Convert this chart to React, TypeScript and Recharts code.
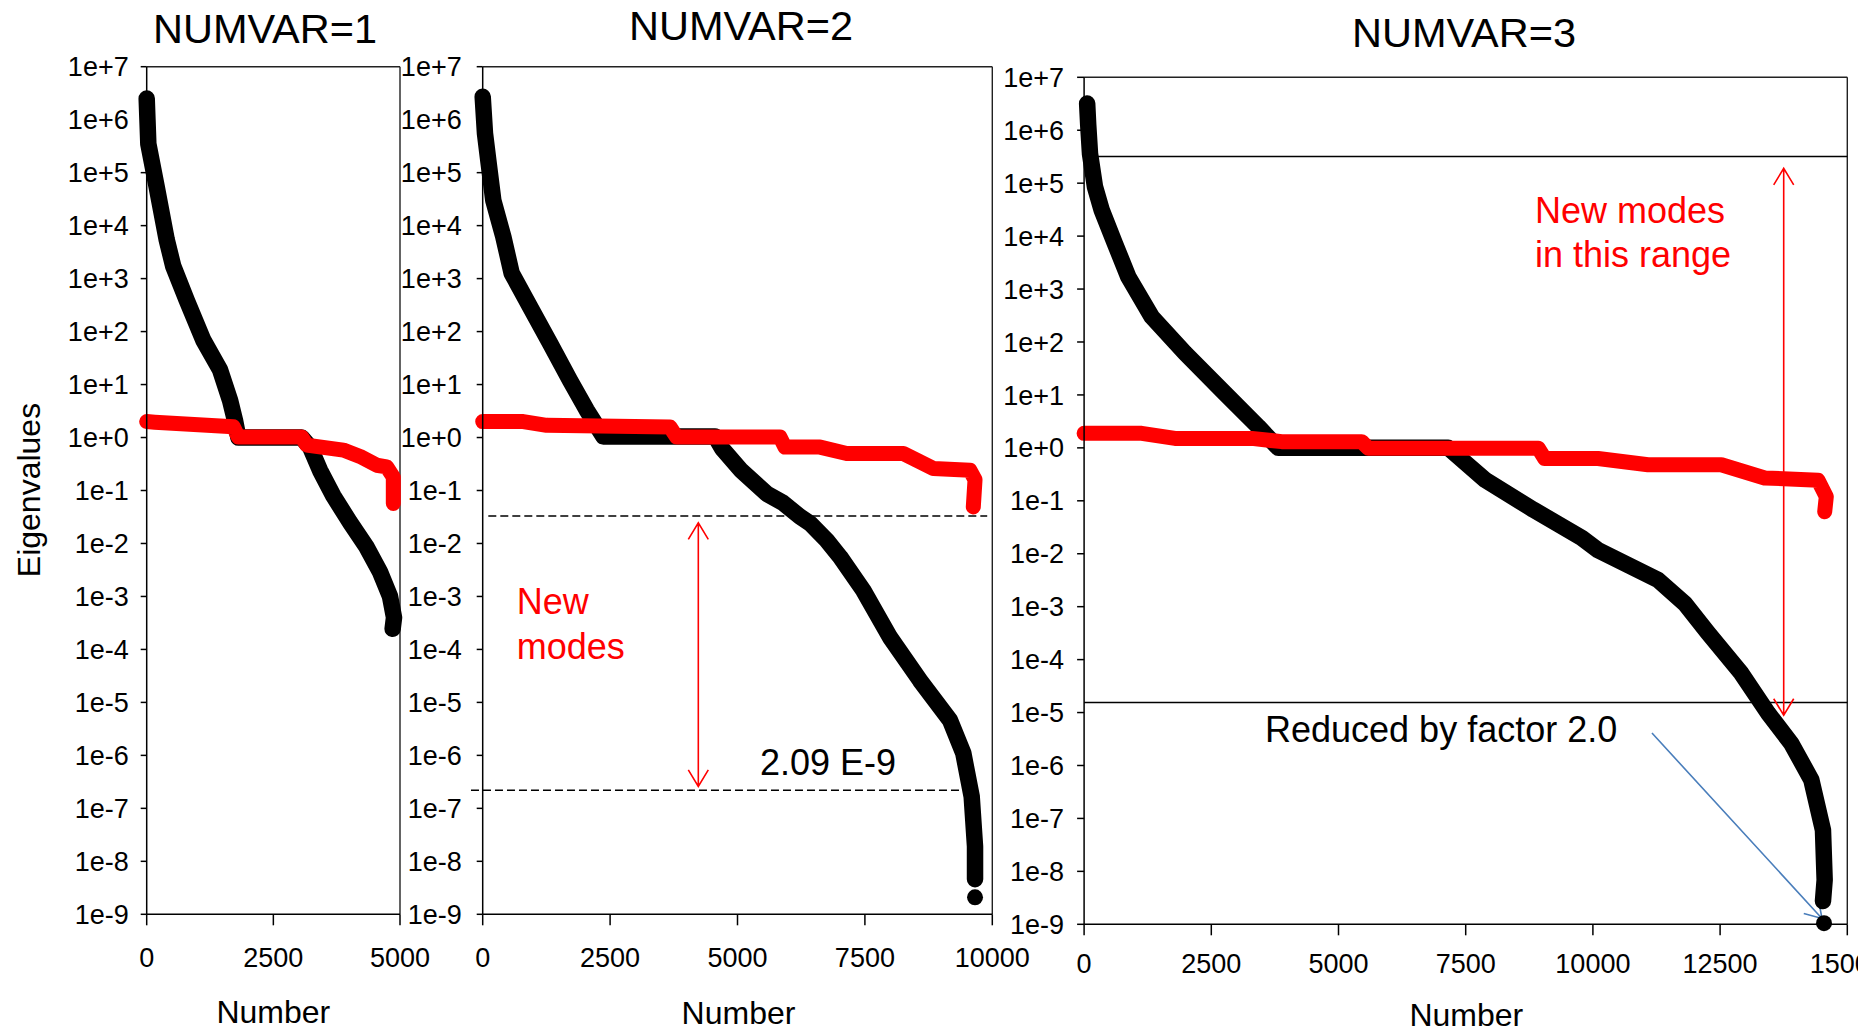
import React from 'react';
import { ComposedChart, Line, Scatter, XAxis, YAxis, ReferenceLine } from 'recharts';

const FONT = '"Liberation Sans", Arial, Helvetica, sans-serif';

// log axis decades and x tick positions
const decadeTicks = [1e-9, 1e-8, 1e-7, 1e-6, 1e-5, 1e-4, 1e-3, 1e-2, 1e-1, 1e0, 1e1, 1e2, 1e3, 1e4, 1e5, 1e6, 1e7];
const xTicks1 = [0, 2500, 5000];
const xTicks2 = [0, 2500, 5000, 7500, 10000];
const xTicks3 = [0, 2500, 5000, 7500, 10000, 12500, 15000];

// NUMVAR=1
const nv1BlackN = [0, 15, 32, 197, 395, 525, 790, 1117, 1447, 1644, 1743, 1810, 3059, 3224, 3421, 3684, 4013, 4342, 4605, 4803, 4882, 4855];
const nv1BlackV = [2.5e6, 1.0e6, 3.5e5, 5.4e4, 5.4e3, 1.7e3, 390, 69, 19, 5.1, 2.1, 1.0, 1.0, 0.66, 0.24, 0.079, 0.025, 8.5e-3, 2.9e-3, 1.0e-3, 4.0e-4, 2.45e-4];
const nv1RedN = [0, 160, 1709, 1808, 3059, 3158, 3882, 4211, 4540, 4737, 4868, 4868];
const nv1RedV = [2.0, 1.95, 1.6, 1.02, 1.02, 0.72, 0.58, 0.44, 0.3, 0.28, 0.18, 0.057];

// NUMVAR=2
const nv2BlackN = [0, 45, 110, 208, 404, 569, 928, 1321, 1713, 2041, 2367, 4560, 4700, 5070, 5573, 5899, 6227, 6423, 6750, 7012, 7469, 7992, 8581, 9170, 9431, 9596, 9661, 9661];
const nv2BlackV = [2.7e6, 5.5e5, 1.7e5, 3.0e4, 6.2e3, 1.26e3, 295, 60, 12, 3.3, 1.05, 1.05, 0.62, 0.24, 0.087, 0.058, 0.032, 0.024, 0.0115, 5.6e-3, 1.3e-3, 1.7e-4, 2.6e-5, 4.6e-6, 1.1e-6, 1.66e-7, 1.9e-8, 4.6e-9];
const nv2LastN = [9661];
const nv2LastV = [2.09e-9];
const nv2RedN = [0, 797, 1256, 3675, 3807, 5834, 5932, 6619, 7143, 8254, 8843, 9562, 9661, 9627];
const nv2RedV = [2.0, 2.0, 1.7, 1.58, 1.02, 1.02, 0.66, 0.66, 0.5, 0.5, 0.26, 0.24, 0.16, 0.049];

// NUMVAR=3
const nv3BlackN = [60, 80, 116, 214, 346, 607, 869, 1329, 1983, 2769, 3424, 3817, 7158, 7879, 8830, 9780, 10100, 11279, 11804, 12262, 12917, 13441, 13899, 14292, 14522, 14555, 14522];
const nv3BlackV = [3.2e6, 1.3e6, 3.6e5, 8.5e4, 3.1e4, 7.2e3, 1.7e3, 300, 62, 10.7, 2.5, 1.0, 1.0, 0.25, 0.068, 0.02, 0.0117, 3.2e-3, 1.15e-3, 3.2e-4, 5.5e-5, 9.8e-6, 2.6e-6, 5.4e-7, 6.0e-8, 6.9e-9, 2.75e-9];
const nv3LastN = [14542];
const nv3LastV = [1.05e-9];
const nv3RedN = [0, 1132, 1786, 3294, 3884, 5456, 5586, 8927, 9052, 10100, 11083, 12524, 13376, 14424, 14587, 14556];
const nv3RedV = [1.88, 1.88, 1.51, 1.51, 1.31, 1.31, 0.98, 0.98, 0.63, 0.63, 0.48, 0.48, 0.27, 0.245, 0.12, 0.062];

type Row = { n: number; v: number };
const rows = (n: number[], v: number[]): Row[] => n.map((x, i) => ({ n: x, v: v[i] }));

const fmtExp = (v: number) => {
  const e = Math.round(Math.log10(v));
  return `1e${e >= 0 ? '+' : ''}${e}`;
};

// open-headed arrow drawn between the reference segment's end points
const arrowShape = (color: string, both: boolean, len: number, half: number) => (p: any) => {
  const { x1, y1, x2, y2 } = p;
  const a = Math.atan2(y2 - y1, x2 - x1);
  const head = (x: number, y: number, ang: number) => {
    const bx = x - len * Math.cos(ang);
    const by = y - len * Math.sin(ang);
    const ox = -Math.sin(ang) * half;
    const oy = Math.cos(ang) * half;
    return `M${bx + ox},${by + oy}L${x},${y}L${bx - ox},${by - oy}`;
  };
  let d = `M${x1},${y1}L${x2},${y2}` + head(x2, y2, a);
  if (both) d += head(x1, y1, a + Math.PI);
  return <path d={d} fill="none" stroke={color} strokeWidth={1.6} />;
};

const dotShape = (p: any) => <circle cx={p.cx} cy={p.cy} r={8} fill="#000" />;

type PanelProps = {
  left: number;
  width: number;
  margin: { top: number; right: number; bottom: number; left: number };
  xMax: number;
  xTicks: number[];
  yTickSize: number;
  yTickMargin: number;
  xTickMargin: number;
  black: Row[];
  red: Row[];
  last?: Row[];
  children?: React.ReactNode;
};

const tickStyle = { fill: '#000', fontSize: 27, fontFamily: FONT };

const Panel = ({ left, width, margin, xMax, xTicks, yTickSize, yTickMargin, xTickMargin, black, red, last, children }: PanelProps) => (
  <div style={{ position: 'absolute', left, top: 0 }}>
    <ComposedChart width={width} height={1031} margin={margin}>
      <XAxis
        type="number"
        dataKey="n"
        domain={[0, xMax]}
        ticks={xTicks}
        interval={0}
        height={60}
        tickSize={11}
        tickMargin={xTickMargin}
        tick={tickStyle}
        axisLine={{ stroke: '#000', strokeWidth: 1.5 }}
        tickLine={{ stroke: '#000', strokeWidth: 1.5 }}
      />
      <YAxis
        type="number"
        dataKey="v"
        scale="log"
        domain={[1e-9, 1e7]}
        ticks={decadeTicks}
        interval={0}
        width={100}
        tickSize={yTickSize}
        tickMargin={yTickMargin}
        tickFormatter={fmtExp}
        tick={tickStyle}
        axisLine={{ stroke: '#000', strokeWidth: 1.5 }}
        tickLine={{ stroke: '#000', strokeWidth: 1.5 }}
      />
      {/* box frame: top and right edges */}
      <ReferenceLine segment={[{ x: 0, y: 1e7 }, { x: xMax, y: 1e7 }]} stroke="#222" strokeWidth={1.4} />
      <ReferenceLine segment={[{ x: xMax, y: 1e-9 }, { x: xMax, y: 1e7 }]} stroke="#222" strokeWidth={1.4} />
      {children}
      <Line data={black} dataKey="v" type="linear" stroke="#000" strokeWidth={16.5} strokeLinecap="round" strokeLinejoin="round" dot={false} isAnimationActive={false} />
      <Line data={red} dataKey="v" type="linear" stroke="#ff0000" strokeWidth={15} strokeLinecap="round" strokeLinejoin="round" dot={false} isAnimationActive={false} />
      {last && <Scatter data={last} dataKey="v" shape={dotShape} isAnimationActive={false} />}
    </ComposedChart>
  </div>
);

const txt = { fontFamily: FONT };

export default function App() {
  return (
    <div style={{ position: 'fixed', left: 0, top: 0, width: 1858, height: 1031, overflow: 'hidden', background: '#fff' }}>
      <Panel
        left={0}
        width={440}
        margin={{ top: 66.7, right: 40, bottom: 56.7, left: 46.7 }}
        xMax={5000}
        xTicks={xTicks1}
        yTickSize={6}
        yTickMargin={12}
        xTickMargin={23}
        black={rows(nv1BlackN, nv1BlackV)}
        red={rows(nv1RedN, nv1RedV)}
      />
      <Panel
        left={380}
        width={650}
        margin={{ top: 66.7, right: 37.7, bottom: 56.7, left: 2.7 }}
        xMax={10000}
        xTicks={xTicks2}
        yTickSize={6}
        yTickMargin={15}
        xTickMargin={23}
        black={rows(nv2BlackN, nv2BlackV)}
        red={rows(nv2RedN, nv2RedV)}
        last={rows(nv2LastN, nv2LastV)}
      >
        <ReferenceLine segment={[{ x: 110, y: 3.3e-2 }, { x: 9900, y: 3.3e-2 }]} stroke="#000" strokeWidth={1.5} strokeDasharray="8 4" />
        <ReferenceLine segment={[{ x: -230, y: 2.2e-7 }, { x: 9370, y: 2.2e-7 }]} ifOverflow="visible" stroke="#000" strokeWidth={1.5} strokeDasharray="8 4" />
        <ReferenceLine segment={[{ x: 4231, y: 2.45e-2 }, { x: 4231, y: 2.6e-7 }]} shape={arrowShape('#ff0000', true, 16.5, 10)} />
      </Panel>
      <Panel
        left={980}
        width={878}
        margin={{ top: 77.3, right: 10.7, bottom: 46.7, left: 4.1 }}
        xMax={15000}
        xTicks={xTicks3}
        yTickSize={7}
        yTickMargin={13}
        xTickMargin={19}
        black={rows(nv3BlackN, nv3BlackV)}
        red={rows(nv3RedN, nv3RedV)}
        last={rows(nv3LastN, nv3LastV)}
      >
        <ReferenceLine segment={[{ x: 250, y: 3.2e5 }, { x: 15000, y: 3.2e5 }]} stroke="#000" strokeWidth={1.5} />
        <ReferenceLine segment={[{ x: 0, y: 1.55e-5 }, { x: 15000, y: 1.55e-5 }]} stroke="#000" strokeWidth={1.5} />
        <ReferenceLine segment={[{ x: 13750, y: 1.9e5 }, { x: 13750, y: 8.9e-6 }]} shape={arrowShape('#ff0000', true, 16.5, 10)} />
        <ReferenceLine segment={[{ x: 11161, y: 4.1e-6 }, { x: 14502, y: 1.29e-9 }]} shape={arrowShape('#4a7ebb', false, 16, 10)} />
      </Panel>

      <svg width={1858} height={1031} style={{ position: 'absolute', left: 0, top: 0, pointerEvents: 'none' }}>
        <g style={txt} fill="#000">
          <text x={265} y={43.3} fontSize={41.5} textAnchor="middle">NUMVAR=1</text>
          <text x={741} y={40} fontSize={41.5} textAnchor="middle">NUMVAR=2</text>
          <text x={1464} y={46.7} fontSize={41.5} textAnchor="middle">NUMVAR=3</text>
          <text x={39.5} y={490} fontSize={32} textAnchor="middle" transform="rotate(-90 39.5 490)">Eigenvalues</text>
          <text x={273.3} y={1023} fontSize={32} textAnchor="middle">Number</text>
          <text x={738.5} y={1024} fontSize={32} textAnchor="middle">Number</text>
          <text x={1466.3} y={1025.5} fontSize={32} textAnchor="middle">Number</text>
          <text x={760} y={775} fontSize={36}>2.09 E-9</text>
          <text x={1265} y={741.7} fontSize={36}>Reduced by factor 2.0</text>
        </g>
        <g style={txt} fill="#ff0000" fontSize={36}>
          <text x={516.7} y={614.3}>New</text>
          <text x={516.7} y={659.3}>modes</text>
          <text x={1535} y={222.7}>New modes</text>
          <text x={1535} y={266.7}>in this range</text>
        </g>
      </svg>
    </div>
  );
}
